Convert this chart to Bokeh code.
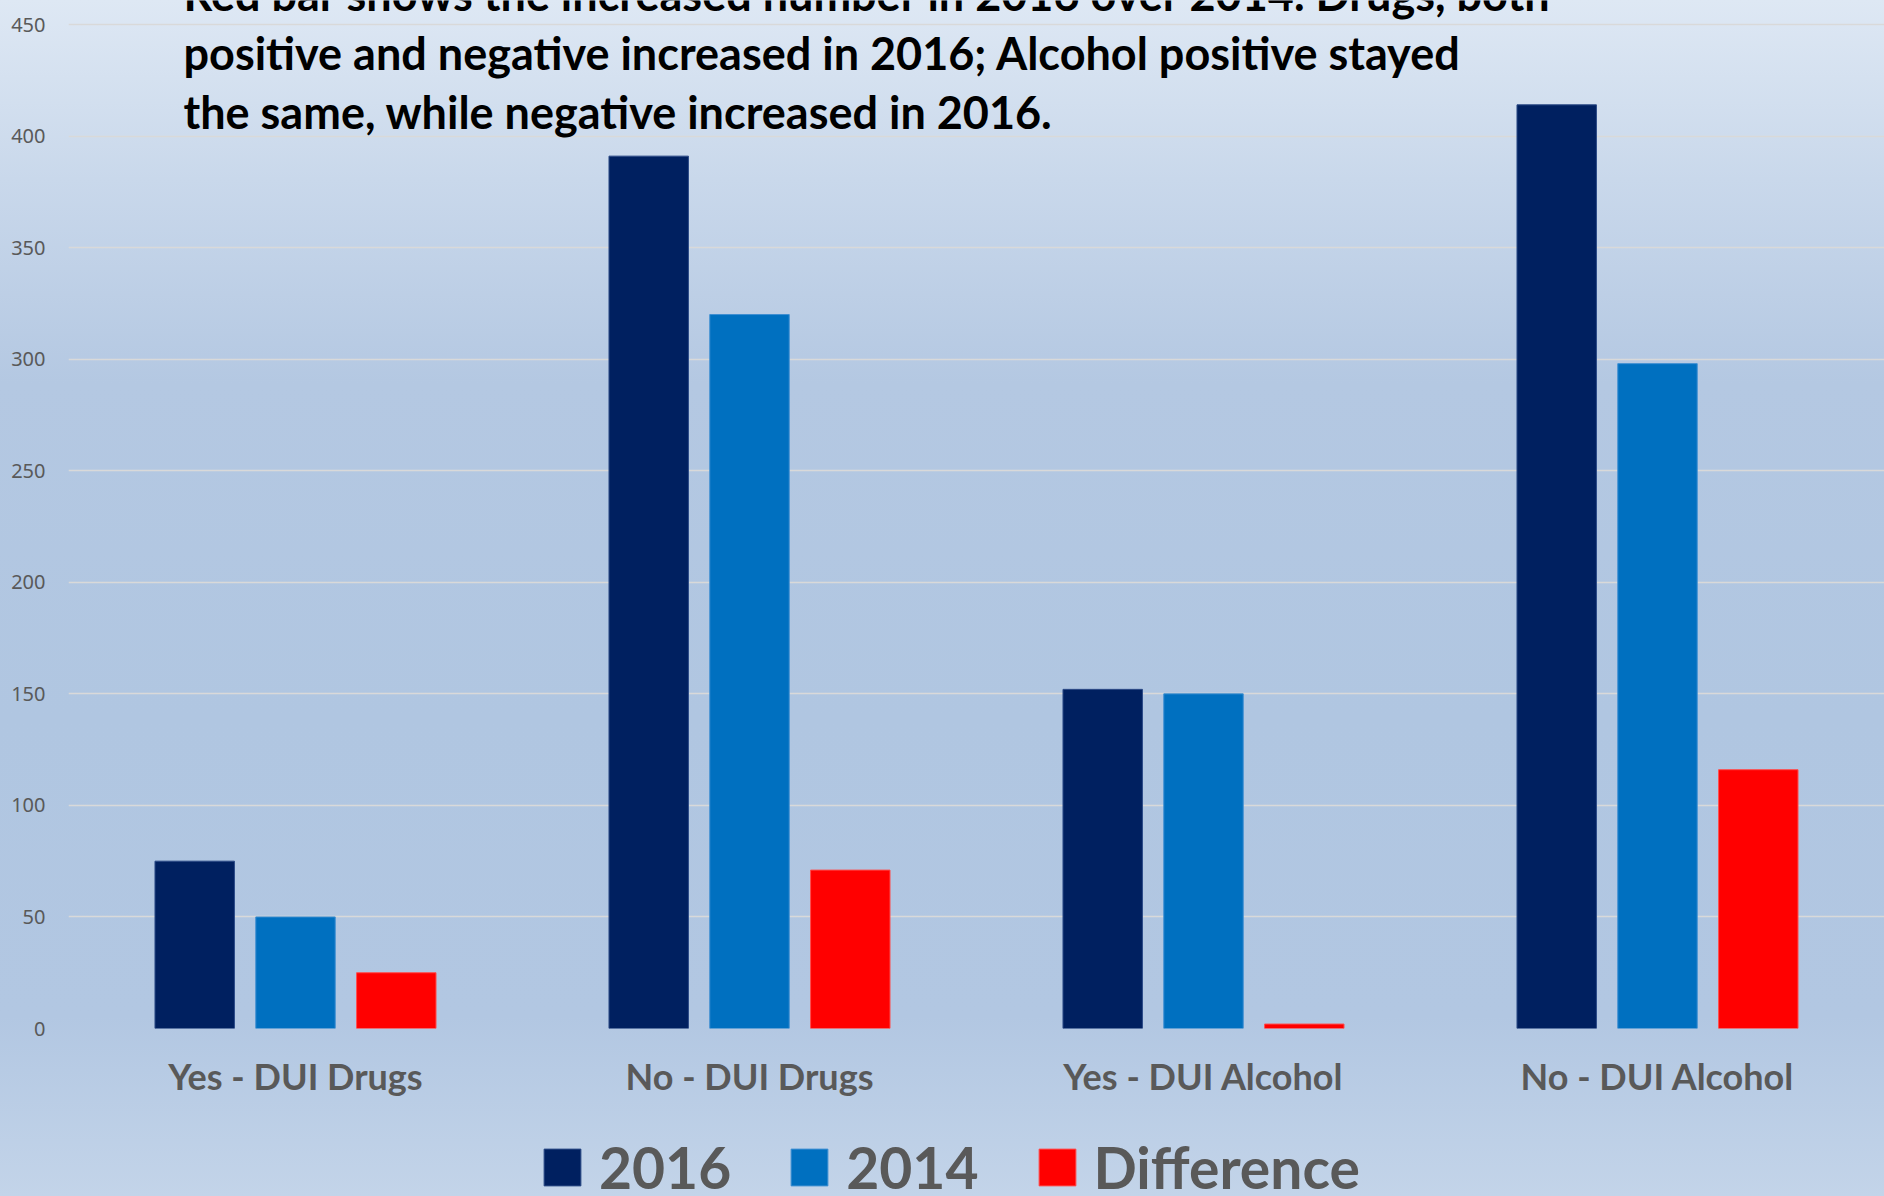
from bokeh.plotting import figure
from bokeh.layouts import column
from bokeh.models import (FactorRange, Range1d, Label, Legend, LegendItem,
                          ColumnDataSource, FixedTicker)
from bokeh.transform import dodge
from bokeh.embed import file_html
from bokeh.resources import INLINE

# ---- data ----
categories = ["Yes - DUI Drugs", "No - DUI Drugs", "Yes - DUI Alcohol", "No - DUI Alcohol"]
series_names = ["2016", "2014", "Difference"]
values_2016 = [75, 391, 152, 414]
values_2014 = [50, 320, 150, 298]
values_diff = [25, 71, 2, 116]
y_ticks = [0, 50, 100, 150, 200, 250, 300, 350, 400, 450]
title_lines = [
    "Red bar shows the increased number in 2016 over 2014.  Drugs, both",
    "positive and negative increased in 2016; Alcohol positive stayed",
    "the same, while negative increased in 2016.",
]

source = ColumnDataSource(dict(cat=categories, v2016=values_2016,
                               v2014=values_2014, vdiff=values_diff))

# frame: 1004 px for 0..450, plus 24 px of headroom above 450
y_top = 450 + 24 * 450 / 1004

x_range = FactorRange(factors=categories, range_padding=0)

p = figure(width=1884, height=1110,
           x_range=x_range, y_range=Range1d(0, y_top),
           output_backend="svg", toolbar_location=None,
           min_border_left=68, min_border_right=0,
           min_border_top=0, min_border_bottom=82,
           background_fill_color=None, border_fill_color=None,
           outline_line_color=None)

fills = ["#002060", "#0070C0", "#FF0000"]
edges = ["#2b4a86", "#3f8fd2", "#ff4d4d"]
cols = ["v2016", "v2014", "vdiff"]
offsets = [-0.222, 0.0, 0.222]
for col, off, fc, lc in zip(cols, offsets, fills, edges):
    p.vbar(x=dodge("cat", off, range=x_range), top=col, width=0.175,
           source=source, fill_color=fc, line_color=lc, line_width=1)

# axes
p.xaxis.axis_line_color = None
p.xaxis.major_tick_line_color = None
p.xaxis.minor_tick_line_color = None
p.xaxis.major_label_text_font = "Lato"
p.xaxis.major_label_text_font_size = "36px"
p.xaxis.major_label_text_font_style = "bold"
p.xaxis.major_label_text_color = "#595959"
p.xaxis.major_label_standoff = 19

p.yaxis.ticker = FixedTicker(ticks=y_ticks)
p.yaxis.axis_line_color = None
p.yaxis.major_tick_line_color = None
p.yaxis.minor_tick_line_color = None
p.yaxis.major_label_text_font = "Noto Sans"
p.yaxis.major_label_text_font_size = "20px"
p.yaxis.major_label_text_color = "#595959"
p.yaxis.major_label_standoff = 17

p.xgrid.grid_line_color = None
p.ygrid.grid_line_color = "#d9d9d9"
p.ygrid.grid_line_width = 1.5

# title text lines
for i, line in enumerate(title_lines):
    p.add_layout(Label(x=115, y=1035 - 59 * i, x_units="screen", y_units="screen",
                       text=line, text_font="Lato", text_font_size="45px",
                       text_font_style="bold", text_color="black",
                       text_baseline="alphabetic"))

# legend strip (same series renderers, view range keeps bars out of sight)
q = figure(width=1884, height=86, x_range=x_range, y_range=Range1d(10000, 10001),
           output_backend="svg", toolbar_location=None,
           min_border=0, x_axis_type=None, y_axis_type=None,
           background_fill_color=None, border_fill_color=None,
           outline_line_color=None)
q.xgrid.grid_line_color = None
q.ygrid.grid_line_color = None
leg_renderers = []
for col, off, fc, lc in zip(cols, offsets, fills, edges):
    r = q.vbar(x=dodge("cat", off, range=x_range), top=col, width=0.175,
               source=source, fill_color=fc, line_color=lc, line_width=1)
    leg_renderers.append(r)

legend = Legend(items=[LegendItem(label=n, renderers=[r]) for n, r in zip(series_names, leg_renderers)],
                orientation="horizontal", location=(471, -5),
                label_text_font="Lato", label_text_font_size="57px",
                label_text_font_style="bold", label_text_color="#595959",
                glyph_width=46, glyph_height=46, label_standoff=14, spacing=55,
                padding=0, margin=0, border_line_color=None,
                background_fill_alpha=0)
q.add_layout(legend)

layout = column(p, q, spacing=0,
                styles={"background": "linear-gradient(to bottom, #dee8f4 0%, #c9d8eb 15%, #b4c8e2 32%, #b0c6e1 60%, #b2c7e2 85%, #c3d4e9 100%)"})

open("out.html", "w").write(file_html(layout, INLINE))
